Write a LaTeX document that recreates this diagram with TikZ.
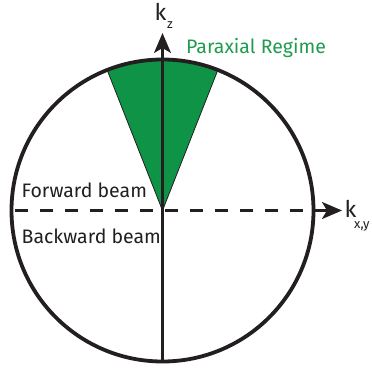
\documentclass[tikz,border=0pt]{standalone}
\usepackage{fontspec}
\setmainfont{Fira Sans}
\usetikzlibrary{arrows.meta}
\definecolor{wedgegreen}{HTML}{0F9347}
\definecolor{textgreen}{HTML}{1F9C4F}
\definecolor{ink}{HTML}{231F20}
\tikzset{
  label/.style={inner sep=0pt, text=ink, font=\fontsize{19.5}{21}\selectfont},
  biglab/.style={inner sep=0pt, text=ink, font=\fontsize{23}{24}\selectfont},
  sublab/.style={inner sep=0pt, text=ink, font=\fontsize{13}{14}\selectfont},
  axisarrow/.style={-{Stealth[length=20pt,width=17pt,inset=5pt]}, draw=ink},
  ring/.style={circle, draw=ink, line width=3.8pt, inner sep=0pt, minimum size=302pt},
  wedge/.style={fill=wedgegreen, draw=ink, line width=0.8pt, line join=round}
}
\begin{document}
\begin{tikzpicture}[x=1pt,y=-1pt]
\useasboundingbox[fill=white] (0,0) rectangle (372,370);
\coordinate (c) at (162.5,210.5);
\coordinate (ztip) at (162.5,33);
\coordinate (xtip) at (342,210.5);
% paraxial wedge
\filldraw[wedge] (c) -- ++(-111.5:151) arc[start angle=-111.5, end angle=-68.5, radius=151] -- cycle;
% circle
\node[ring] (circ) at (c) {};
% axes
\draw[axisarrow, line width=2.2pt] (circ.south) -- (ztip);
\draw[axisarrow, line width=2.7pt, dash pattern=on 13pt off 12pt, dash phase=19.5pt] (circ.west) -- (xtip);
% labels
\node[biglab, anchor=base west] (kz) at (154.5,20) {k};
\node[sublab, anchor=base west] (kzsub) at (167,28.5) {z};
\node[biglab, anchor=base west] (kx) at (344.5,217) {k};
\node[sublab, anchor=base west] (kxsub) at (354,228.5) {x,y};
\node[label, anchor=base west, text=textgreen] (par) at (186,53) {Paraxial Regime};
\node[label, anchor=base west] (fwd) at (21.5,197) {Forward beam};
\node[label, anchor=base west] (bwd) at (21.5,243.5) {Backward beam};
\end{tikzpicture}
\end{document}
